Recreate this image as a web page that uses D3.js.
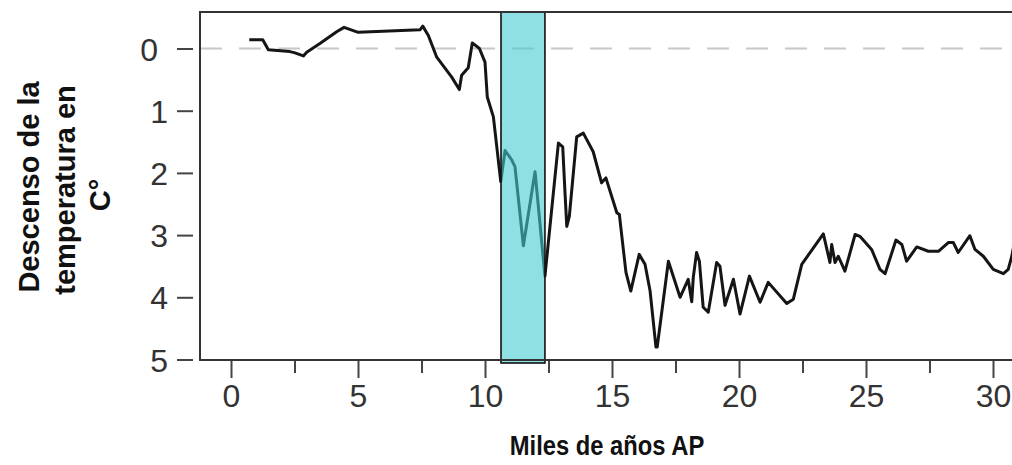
<!DOCTYPE html>
<html>
<head>
<meta charset="utf-8">
<script src="https://cdn.jsdelivr.net/npm/d3@7"></script>
<style>
  body { margin: 0; background: #fff; }
  svg { display: block; }
</style>
</head>
<body>
<div id="chart"></div>
<script>
// Data: thousands of years BP vs temperature drop (°C)
const ages = [0.72, 1.25, 1.47, 2.32, 2.52, 2.85, 2.98, 3.50, 4.16, 4.45, 5.01, 7.44, 7.55, 7.77, 8.10, 8.69, 8.99, 9.08, 9.34, 9.50,
  9.78, 10.00, 10.09, 10.33, 10.62, 10.79, 11.05, 11.18, 11.51, 11.97, 12.36, 12.89, 13.06, 13.15, 13.22, 13.32, 13.61, 13.87, 14.26, 14.59,
  14.76, 15.19, 15.29, 15.55, 15.74, 16.07, 16.30, 16.50, 16.73, 16.78, 17.22, 17.68, 18.00, 18.14, 18.20, 18.33, 18.44, 18.59, 18.79, 19.12,
  19.25, 19.45, 19.78, 20.04, 20.41, 20.83, 21.15, 21.88, 22.14, 22.47, 23.32, 23.58, 23.65, 23.78, 23.91, 24.17, 24.57, 24.76, 25.22, 25.55,
  25.75, 26.18, 26.41, 26.60, 27.00, 27.45, 27.85, 28.24, 28.44, 28.63, 29.09, 29.29, 29.62, 30.01, 30.41, 30.60, 30.74, 30.90];
const drops = [-0.14, -0.14, 0.02, 0.05, 0.07, 0.12, 0.06, -0.08, -0.27, -0.34, -0.26, -0.30, -0.36, -0.21, 0.14, 0.46, 0.66, 0.43, 0.31, -0.09,
  0.00, 0.22, 0.78, 1.10, 2.14, 1.64, 1.79, 1.90, 3.17, 1.98, 3.66, 1.52, 1.58, 2.32, 2.86, 2.70, 1.42, 1.36, 1.66, 2.16,
  2.08, 2.64, 2.67, 3.60, 3.90, 3.31, 3.47, 3.90, 4.80, 4.80, 3.42, 4.00, 3.71, 4.07, 3.68, 3.28, 3.42, 4.16, 4.24, 3.44,
  3.50, 4.13, 3.71, 4.27, 3.66, 4.08, 3.76, 4.10, 4.03, 3.47, 2.98, 3.44, 3.15, 3.44, 3.34, 3.58, 2.99, 3.02, 3.23, 3.55,
  3.62, 3.08, 3.15, 3.42, 3.19, 3.26, 3.26, 3.12, 3.12, 3.28, 3.01, 3.23, 3.34, 3.55, 3.62, 3.55, 3.34, 2.99];
const band = [10.63, 12.36];          // shaded interval
const xTicks = [0, 5, 10, 15, 20, 25, 30];
const xMinorTicks = [2.5, 7.5, 12.5, 17.5, 22.5, 27.5];
const yTicks = [0, 1, 2, 3, 4, 5];
const xTitle = "Miles de años AP";
const yTitle = ["Descenso de la", "temperatura en", "C°"];

const width = 1012, height = 465;
const frame = {left: 200, top: 12, right: 1020, bottom: 360};

const svg = d3.select("#chart").append("svg")
    .attr("width", width)
    .attr("height", height);

const x = d3.scaleLinear().domain([0, 30]).range([231, 993]);
const y = d3.scaleLinear().domain([0, 5]).range([48.5, 359.5]);

svg.append("clipPath").attr("id", "clip")
  .append("rect")
    .attr("x", frame.left).attr("y", frame.top)
    .attr("width", frame.right - frame.left).attr("height", frame.bottom - frame.top);

// zero reference line
svg.append("line")
    .attr("x1", frame.left).attr("x2", frame.right)
    .attr("y1", y(0)).attr("y2", y(0))
    .attr("stroke", "#c8c8c8")
    .attr("stroke-width", 2)
    .attr("stroke-dasharray", "22,17");

const points = ages.map((a, i) => [a, drops[i]]);
const line = d3.line().x(d => x(d[0])).y(d => y(d[1]));

svg.append("path")
    .datum(points)
    .attr("clip-path", "url(#clip)")
    .attr("d", line)
    .attr("fill", "none")
    .attr("stroke", "#151515")
    .attr("stroke-width", 3)
    .attr("stroke-linejoin", "round");

// shaded band (drawn over the line, semi transparent)
svg.append("rect")
    .attr("x", x(band[0])).attr("y", frame.top)
    .attr("width", x(band[1]) - x(band[0]))
    .attr("height", frame.bottom + 3 - frame.top)
    .attr("fill", "rgb(68,203,207)")
    .attr("fill-opacity", 0.6)
    .attr("stroke", "#111")
    .attr("stroke-width", 1.6);

// frame
svg.append("rect")
    .attr("x", frame.left).attr("y", frame.top)
    .attr("width", frame.right - frame.left).attr("height", frame.bottom - frame.top)
    .attr("fill", "none")
    .attr("stroke", "#333")
    .attr("stroke-width", 2);

// y axis
const yAxis = svg.append("g")
    .attr("transform", "translate(193,0)")
    .call(d3.axisLeft(y).tickValues(yTicks).tickSize(16).tickPadding(9).tickFormat(d3.format("d")));
yAxis.select(".domain").remove();
yAxis.selectAll("line").attr("stroke", "#444").attr("stroke-width", 2);
yAxis.selectAll("text")
    .attr("fill", "#333")
    .style("font", "32px 'Liberation Sans', Arial, sans-serif")
    .attr("dy", "0.36em")
    .attr("dx", d => d === 0 ? -10 : 0);   // the "0" sits a bit further left in the original

// x axis
const xAxis = svg.append("g")
    .attr("transform", `translate(0,${frame.bottom + 1})`)
    .call(d3.axisBottom(x).tickValues(xTicks).tickSize(17).tickPadding(6).tickFormat(d3.format("d")));
xAxis.select(".domain").remove();
xAxis.selectAll("line").attr("stroke", "#444").attr("stroke-width", 2);
xAxis.selectAll("text")
    .attr("fill", "#333")
    .style("font", "32px 'Liberation Sans', Arial, sans-serif");

const xMinor = svg.append("g")
    .attr("transform", `translate(0,${frame.bottom + 1})`)
    .call(d3.axisBottom(x).tickValues(xMinorTicks).tickSize(12).tickFormat(""));
xMinor.select(".domain").remove();
xMinor.selectAll("line").attr("stroke", "#444").attr("stroke-width", 2);

// titles
svg.append("text")
    .attr("transform", "translate(607,455) scale(0.88,1)")
    .attr("text-anchor", "middle")
    .attr("fill", "#111")
    .style("font", "bold 27px 'Liberation Sans', Arial, sans-serif")
    .text(xTitle);

const yt = svg.append("text")
    .attr("transform", "rotate(-90)")
    .attr("text-anchor", "middle")
    .attr("fill", "#111")
    .style("font", "bold 29px 'Liberation Sans', Arial, sans-serif");
yTitle.forEach((t, i) => {
  yt.append("tspan")
      .attr("x", [-187, -190, -195][i])
      .attr("y", [39, 75, 110][i])
      .text(t);
});
</script>
</body>
</html>
